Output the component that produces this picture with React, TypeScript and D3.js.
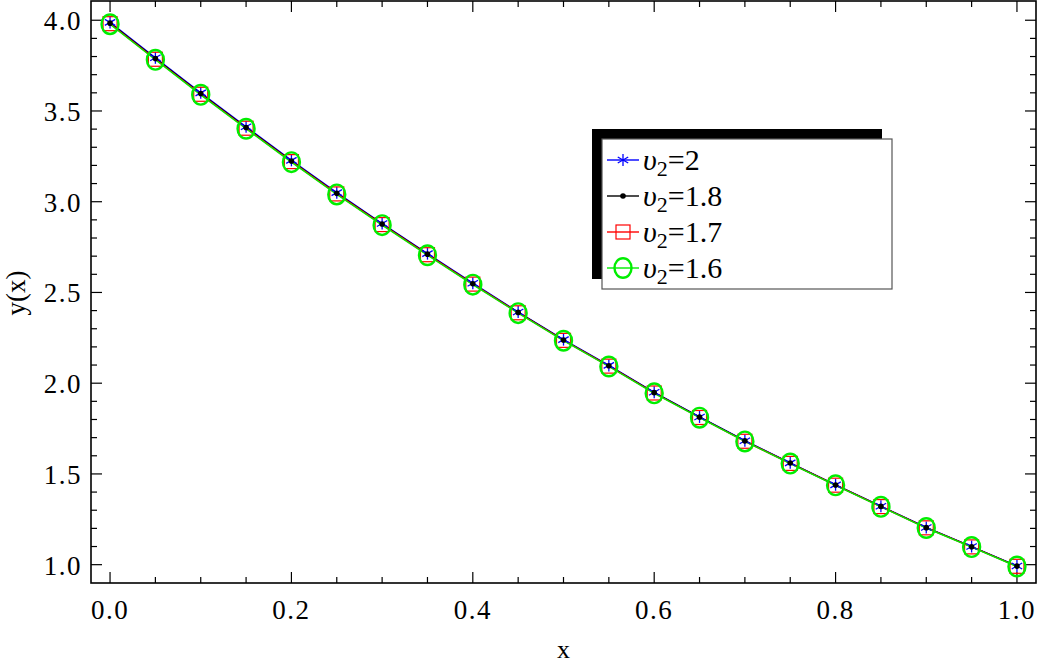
import * as d3 from 'd3';

const xs = [0, 0.05, 0.1, 0.15, 0.2, 0.25, 0.3, 0.35, 0.4, 0.45, 0.5, 0.55, 0.6, 0.65, 0.7, 0.75, 0.8, 0.85, 0.9, 0.95, 1.0];
const yBlue = [3.988, 3.793, 3.6, 3.413, 3.228, 3.05, 2.88, 2.714, 2.551, 2.392, 2.24, 2.098, 1.95, 1.814, 1.683, 1.561, 1.44, 1.322, 1.205, 1.1, 0.993];
const yBlack = [3.984, 3.789, 3.596, 3.409, 3.224, 3.046, 2.877, 2.711, 2.548, 2.39, 2.238, 2.096, 1.948, 1.813, 1.682, 1.56, 1.439, 1.321, 1.204, 1.099, 0.992];
const yRed = [3.981, 3.785, 3.592, 3.405, 3.221, 3.043, 2.874, 2.708, 2.546, 2.388, 2.236, 2.094, 1.946, 1.811, 1.68, 1.558, 1.438, 1.32, 1.203, 1.098, 0.991];
const yGreen = [3.978, 3.782, 3.589, 3.402, 3.218, 3.04, 2.871, 2.705, 2.543, 2.386, 2.234, 2.092, 1.944, 1.81, 1.679, 1.557, 1.437, 1.319, 1.202, 1.097, 0.99];
const xTicks = [0, 0.2, 0.4, 0.6, 0.8, 1.0];
const yTicks = [1.0, 1.5, 2.0, 2.5, 3.0, 3.5, 4.0];
const legendLabels = ['2', '1.8', '1.7', '1.6'];

const W = 1037, H = 666;
const L = 91, R = 1036, T = 1, B = 583;
const font = "'Liberation Serif', Tinos, 'Times New Roman', Times, serif";

const x = d3.scaleLinear().domain([-0.021, 1.021]).range([L, R]);
const y = d3.scaleLinear().domain([0.899, 4.106]).range([B, T]);

const series = [
  { name: legendLabels[0], vals: yBlue, color: '#0000ff', marker: 'star' },
  { name: legendLabels[1], vals: yBlack, color: '#000000', marker: 'dot' },
  { name: legendLabels[2], vals: yRed, color: '#ff0000', marker: 'square' },
  { name: legendLabels[3], vals: yGreen, color: '#00ee00', marker: 'circle' },
];

function Marker({ kind, cx, cy, color }: { kind: string; cx: number; cy: number; color: string }) {
  if (kind === 'star') {
    const r = 6;
    return (
      <g stroke={color} strokeWidth={1.3}>
        <line x1={cx} y1={cy - r} x2={cx} y2={cy + r} />
        <line x1={cx - r * 0.87} y1={cy - r * 0.5} x2={cx + r * 0.87} y2={cy + r * 0.5} />
        <line x1={cx - r * 0.87} y1={cy + r * 0.5} x2={cx + r * 0.87} y2={cy - r * 0.5} />
      </g>
    );
  }
  if (kind === 'dot') return <circle cx={cx} cy={cy} r={2.8} fill={color} />;
  if (kind === 'square')
    return <rect x={cx - 7} y={cy - 7} width={14} height={14} fill="none" stroke={color} strokeWidth={1.2} />;
  return <ellipse cx={cx} cy={cy} rx={8.5} ry={9.8} fill="none" stroke={color} strokeWidth={2.4} />;
}

export default function App() {
  const line = d3.line<number>().x((_, i) => x(xs[i])).y((d) => y(d));
  const xMinor = d3.range(0, 1.0001, 0.05);
  const yMinor = d3.range(1.0, 4.1, 0.1);
  const isMajorX = (v: number) => Math.abs(v * 5 - Math.round(v * 5)) < 1e-6;
  const isMajorY = (v: number) => Math.abs(v * 2 - Math.round(v * 2)) < 1e-6;

  const lx = 602, ly = 139, lw = 290, lh = 150;

  return (
    <svg width={W} height={H} style={{ position: 'absolute', left: 0, top: 0, background: '#fff', fontFamily: font }}>
      {/* ticks on all four sides, pointing inward */}
      <g stroke="#000" strokeWidth={1.2}>
        {xMinor.map((v) => {
          const len = isMajorX(v) ? 11 : 6;
          return (
            <g key={'xt' + v}>
              <line x1={x(v)} x2={x(v)} y1={B} y2={B - len} />
              <line x1={x(v)} x2={x(v)} y1={T} y2={T + len} />
            </g>
          );
        })}
        {yMinor.map((v) => {
          const len = isMajorY(v) ? 11 : 6;
          return (
            <g key={'yt' + v}>
              <line x1={L} x2={L + len} y1={y(v)} y2={y(v)} />
              <line x1={R} x2={R - len} y1={y(v)} y2={y(v)} />
            </g>
          );
        })}
      </g>

      {/* lines */}
      {series.map((s) => (
        <path key={'l' + s.name} d={line(s.vals) || ''} fill="none" stroke={s.color} strokeWidth={1.4} />
      ))}
      {/* markers */}
      {series.map((s) => (
        <g key={'m' + s.name}>
          {s.vals.map((v, i) => (
            <Marker key={i} kind={s.marker} cx={x(xs[i])} cy={y(v)} color={s.color} />
          ))}
        </g>
      ))}

      {/* frame */}
      <rect x={L} y={T} width={R - L} height={B - T} fill="none" stroke="#000" strokeWidth={1.6} />

      {/* tick labels */}
      {xTicks.map((v) => (
        <text key={'xl' + v} x={x(v)} y={619} textAnchor="middle" fontSize={27} letterSpacing={1.5}>
          {v.toFixed(1)}
        </text>
      ))}
      {yTicks.map((v) => (
        <text key={'yl' + v} x={82} y={y(v) + 10} textAnchor="end" fontSize={27} letterSpacing={1.5}>
          {v.toFixed(1)}
        </text>
      ))}

      {/* axis titles */}
      <text x={(L + R) / 2} y={658} textAnchor="middle" fontSize={26}>x</text>
      <text transform={`translate(25, 293) rotate(-90)`} textAnchor="middle" fontSize={27}>y(x)</text>

      {/* legend */}
      <rect x={lx - 10} y={ly - 10} width={lw} height={lh} fill="#000" />
      <rect x={lx} y={ly} width={lw} height={lh} fill="#fff" stroke="#555" strokeWidth={1.2} />
      {series.map((s, i) => {
        const cy = 160 + i * 36;
        return (
          <g key={'lg' + s.name}>
            <line x1={607} x2={639} y1={cy} y2={cy} stroke={s.color} strokeWidth={1.4} />
            <Marker kind={s.marker} cx={623} cy={cy} color={s.color} />
            <text x={643} y={cy + 10} fontSize={30}>
              <tspan fontStyle="italic">υ</tspan>
              <tspan fontSize={22} dy={6}>2</tspan>
              <tspan dy={-6}>={s.name}</tspan>
            </text>
          </g>
        );
      })}
    </svg>
  );
}
